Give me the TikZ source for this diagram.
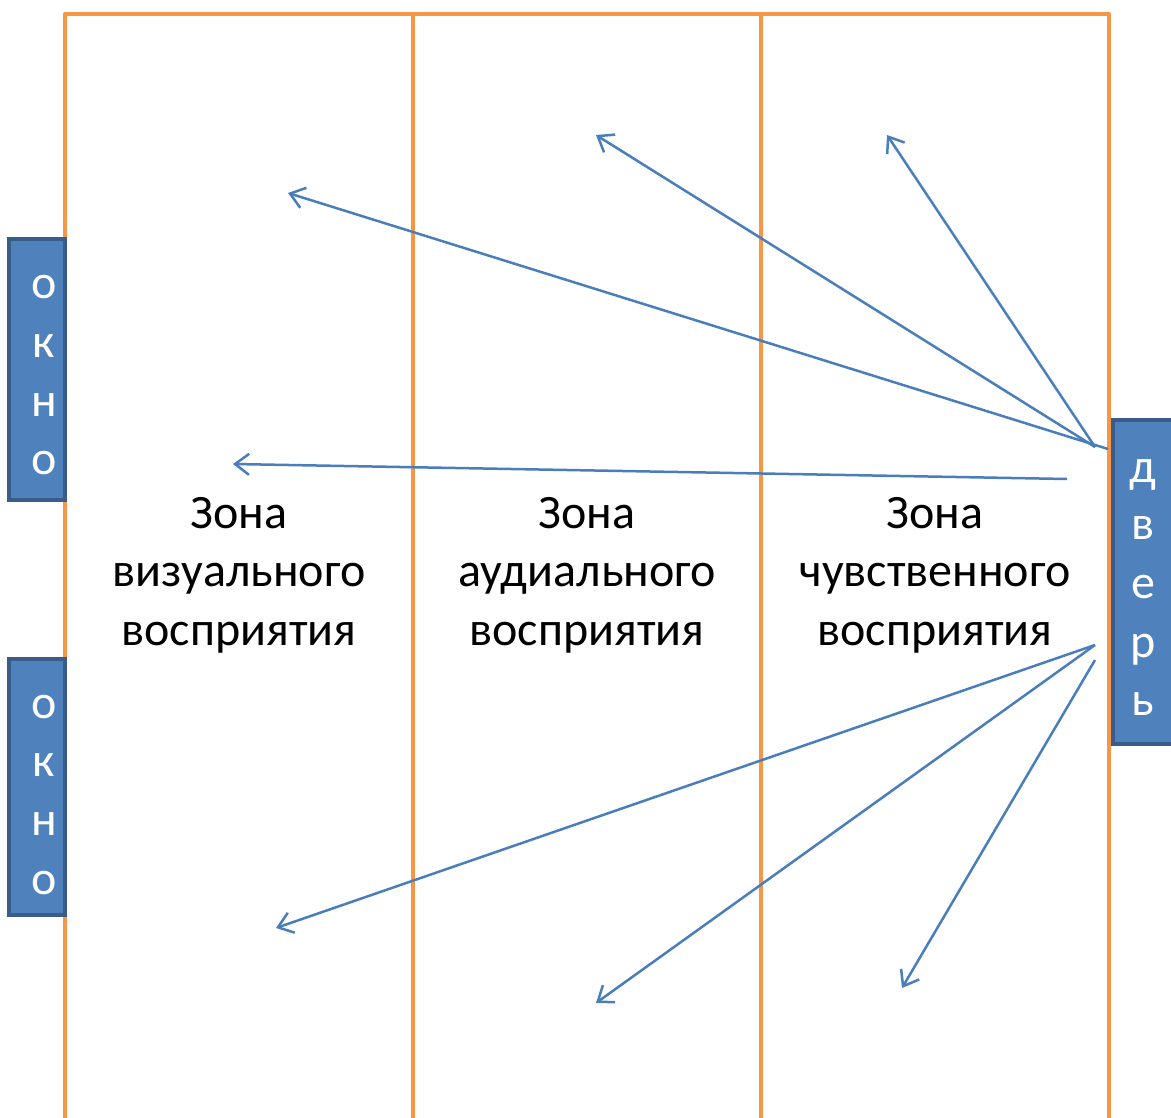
\documentclass[tikz,border=0pt]{standalone}
\usepackage{fontspec}
\setmainfont{Carlito}
\usetikzlibrary{arrows.meta}
\definecolor{wall}{HTML}{F79646}
\definecolor{boxfill}{HTML}{4F81BD}
\definecolor{boxline}{HTML}{385D8A}
\definecolor{arr}{HTML}{4A7EBB}
\begin{document}
\begin{tikzpicture}[x=1pt,y=-1pt,
  wallline/.style={draw=wall,line width=4.5pt},
  opening/.style={draw=boxline,fill=boxfill,line width=4pt},
  letter/.style={text=white,font=\fontsize{48}{58}\selectfont,text height=22pt,text depth=0pt,inner sep=0pt},
  zone/.style={font=\fontsize{48}{58.5}\selectfont,align=center,inner sep=0pt},
  flow/.style={draw=arr,line width=2.5pt,-{Straight Barb[length=14pt,width=21pt,line width=2.5pt]}}
]
\useasboundingbox (0,0) rectangle (1171,1118);
% walls and zone borders
\coordinate (tl) at (65,14);
\coordinate (tr) at (1109,14);
\draw[wallline,line join=round] (65,1125) -- (tl) -- (tr) -- (1109,1125);
\coordinate (m1t) at (413,14);
\coordinate (m2t) at (761,14);
\coordinate (m1b) at (413,1125);
\coordinate (m2b) at (761,1125);
\draw[wallline] (m1t) -- (m1b);
\draw[wallline] (m2t) -- (m2b);
% zone labels
\node[zone] (z1) at (239,575) {Зона\\визуального\\восприятия};
\node[zone] (z2) at (587,575) {Зона\\аудиального\\восприятия};
\node[zone] (z3) at (935,575) {Зона\\чувственного\\восприятия};
% arrow start/end points
\coordinate (s1) at (1108,449);
\coordinate (s2) at (1095,447);
\coordinate (s4) at (1067,479);
\coordinate (s5) at (1095,645);
\coordinate (s7) at (1095,660);
\coordinate (e1) at (288,193);
\coordinate (e2) at (596,135);
\coordinate (e3) at (887,135);
\coordinate (e4) at (233,464);
\coordinate (e5) at (276,928);
\coordinate (e6) at (596,1003);
\coordinate (e7) at (902,988);
\draw[flow] (s1) -- (e1);
\draw[flow] (s2) -- (e2);
\draw[flow] (s2) -- (e3);
\draw[flow] (s4) -- (e4);
\draw[flow] (s5) -- (e5);
\draw[flow] (s5) -- (e6);
\draw[flow] (s7) -- (e7);
% windows
\draw[opening] (9,239) rectangle (65,500);
\draw[opening] (9,659) rectangle (65,915);
% door
\draw[opening] (1113,420) rectangle (1180,744);
% letters
\foreach \t/\y [count=\i] in {о/288,к/346,н/405,о/463}
  \node[letter] (wa\i) at (44,\y) {\t};
\foreach \t/\y [count=\i] in {о/707,к/765,н/824,о/883}
  \node[letter] (wb\i) at (44,\y) {\t};
\foreach \t/\y [count=\i] in {д/471,в/528,е/587,р/646,ь/704}
  \node[letter] (d\i) at (1143,\y) {\t};
\end{tikzpicture}
\end{document}
